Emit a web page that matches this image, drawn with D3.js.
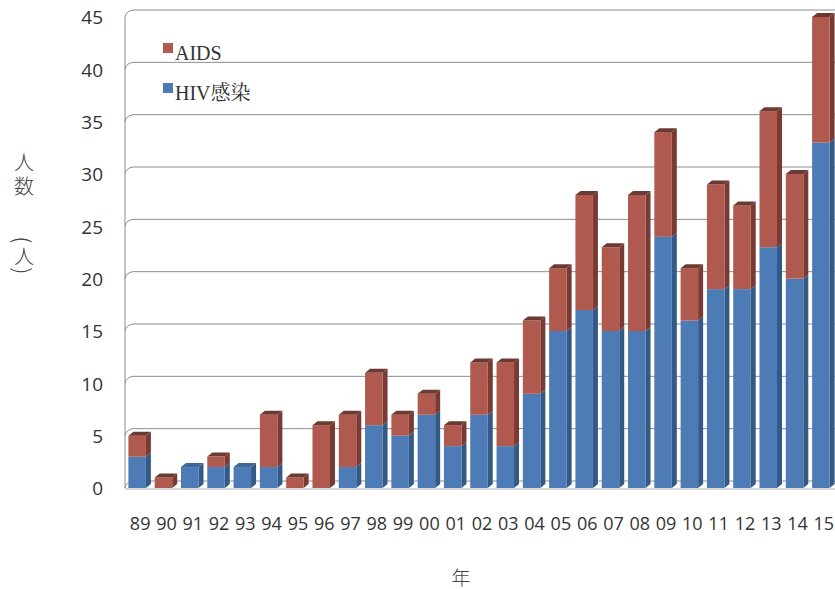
<!DOCTYPE html>
<html>
<head>
<meta charset="utf-8">
<script src="https://cdn.jsdelivr.net/npm/d3@7"></script>
<style>
  html, body { margin: 0; padding: 0; background: #fff; }
  svg { display: block; }
</style>
</head>
<body>
<svg id="chart" width="835" height="589"></svg>
<script>
// Reported cases per year (HIV infection and AIDS), stacked
const years = ["89","90","91","92","93","94","95","96","97","98","99","00","01","02",
               "03","04","05","06","07","08","09","10","11","12","13","14","15"];
const hivValues  = [3,0,2,2,2,2,0,0,2,6,5,7,4,7,4,9,15,17,15,15,24,16,19,19,23,20,33];
const aidsValues = [2,1,0,1,0,5,1,6,5,5,2,2,2,5,8,7,6,11,8,13,10,5,10,8,13,10,12];
const yTicks = [0,5,10,15,20,25,30,35,40,45];
const seriesNames = ["AIDS", "HIV感染"];

const colors = {
  hiv:  { front: "#4c7bb6", side: "#335987", top: "#3f6797" },
  aids: { front: "#b0594e", side: "#783a32", top: "#6c3a32" }
};

const svg = d3.select("#chart");

// Plot frame: front edge of the left wall and the floor
const plotLeft = 125, plotRight = 835, plotTop = 17, plotBottom = 488;
const wallDx = 8, wallDy = -7;      // depth of the back wall
const barDx = 5, barDy = -4;        // depth of each column
const barW = 17.5;

const x = d3.scaleBand().domain(years).range([plotLeft, plotRight]).padding(0);
const y = d3.scaleLinear().domain([0, 45]).range([plotBottom, plotTop]);

// Gridlines: slanted across the side wall, then along the back wall
const grid = svg.append("g").attr("fill", "none").attr("stroke", "#8c8c8c").attr("stroke-width", 1);
yTicks.forEach(v => {
  const yy = y(v);
  grid.append("path")
    .attr("d", `M${plotLeft},${yy} Q${plotLeft + 1},${yy + wallDy + 1} ${plotLeft + wallDx},${yy + wallDy} L${plotRight},${yy + wallDy}`);
});
// Left wall edge and floor front edge
grid.append("line").attr("x1", plotLeft).attr("x2", plotLeft).attr("y1", y(45)).attr("y2", y(0));
grid.append("line").attr("x1", plotLeft).attr("x2", plotRight).attr("y1", y(0) + 1).attr("y2", y(0) + 1)
  .attr("stroke", "#b0b0b0");

// Stacked data built from the series arrays
const stackData = years.map((yr, i) => ({ year: yr, hiv: hivValues[i], aids: aidsValues[i] }));
const stacked = d3.stack().keys(["hiv", "aids"])(stackData);

const bars = svg.append("g");
stackData.forEach((d, i) => {
  const cx = x(d.year) + x.bandwidth() / 2;
  const x0 = cx - barW / 2 - 1;
  const total = d.hiv + d.aids;
  stacked.forEach(layer => {
    const seg = layer[i];
    const v0 = seg[0], v1 = seg[1];
    if (v1 - v0 <= 0) return;
    const c = colors[layer.key];
    const y0 = y(v0), y1 = y(v1);
    const g = bars.append("g");
    // side face
    g.append("path")
      .attr("d", `M${x0 + barW},${y0} L${x0 + barW + barDx},${y0 + barDy} L${x0 + barW + barDx},${y1 + barDy} L${x0 + barW},${y1} Z`)
      .attr("fill", c.side);
    // front face
    g.append("rect")
      .attr("x", x0).attr("y", y1)
      .attr("width", barW).attr("height", y0 - y1)
      .attr("fill", c.front);
    // top face on the uppermost segment
    if (v1 === total) {
      g.append("path")
        .attr("d", `M${x0},${y1} L${x0 + barDx},${y1 + barDy} L${x0 + barW + barDx},${y1 + barDy} L${x0 + barW},${y1} Z`)
        .attr("fill", c.top);
    }
  });
});

// Y tick labels
const yAxis = d3.axisLeft(y).tickValues(yTicks).tickSize(0).tickPadding(0);
const yg = svg.append("g").attr("transform", `translate(103,0)`).call(yAxis);
yg.select(".domain").remove();
yg.selectAll("text")
  .attr("font-family", "'Open Sans', 'Noto Sans', sans-serif")
  .attr("font-size", 19).attr("fill", "#333").attr("dy", "0.36em");

// X tick labels
const xAxis = d3.axisBottom(x).tickSize(0).tickPadding(0);
const xg = svg.append("g").attr("transform", `translate(2,517)`).call(xAxis);
xg.select(".domain").remove();
xg.selectAll("text")
  .attr("font-family", "'Open Sans', 'Noto Sans', sans-serif")
  .attr("font-size", 18).attr("fill", "#333").attr("dy", "0.71em");

// Legend
const legend = svg.append("g");
const legendItems = [
  { name: seriesNames[0], color: colors.aids.front, y: 48 },
  { name: seriesNames[1], color: colors.hiv.front, y: 88 }
];
legendItems.forEach(it => {
  legend.append("rect").attr("x", 163).attr("y", it.y - 5).attr("width", 10).attr("height", 10)
    .attr("fill", it.color);
  legend.append("text").attr("x", 175).attr("y", it.y + 12)
    .attr("font-family", "'Liberation Serif', 'Noto Serif CJK JP', 'Noto Sans CJK JP', serif")
    .attr("font-size", 20).attr("fill", "#333").text(it.name);
});

// Vertical y-axis title: 人数（人）, parentheses turned for vertical writing
const titleFont = "'Noto Sans CJK JP', sans-serif";
const titleChars = [
  { ch: "人", y: 161, rot: 0 }, { ch: "数", y: 185, rot: 0 },
  { ch: "(", y: 240, rot: 90 }, { ch: "人", y: 255, rot: 0 }, { ch: ")", y: 271, rot: 90 }
];
svg.append("g").selectAll("text").data(titleChars).join("text")
  .attr("transform", d => `translate(24,${d.y}) rotate(${d.rot})`)
  .attr("text-anchor", "middle").attr("dominant-baseline", "central")
  .attr("font-family", titleFont)
  .attr("font-size", d => d.rot ? 22 : 20).attr("font-weight", 300).attr("fill", "#444")
  .text(d => d.ch);

// X-axis title
svg.append("text").attr("x", 461).attr("y", 576)
  .attr("text-anchor", "middle").attr("dominant-baseline", "central")
  .attr("font-family", titleFont)
  .attr("font-size", 19).attr("font-weight", 300).attr("fill", "#444")
  .text("年");
</script>
</body>
</html>
